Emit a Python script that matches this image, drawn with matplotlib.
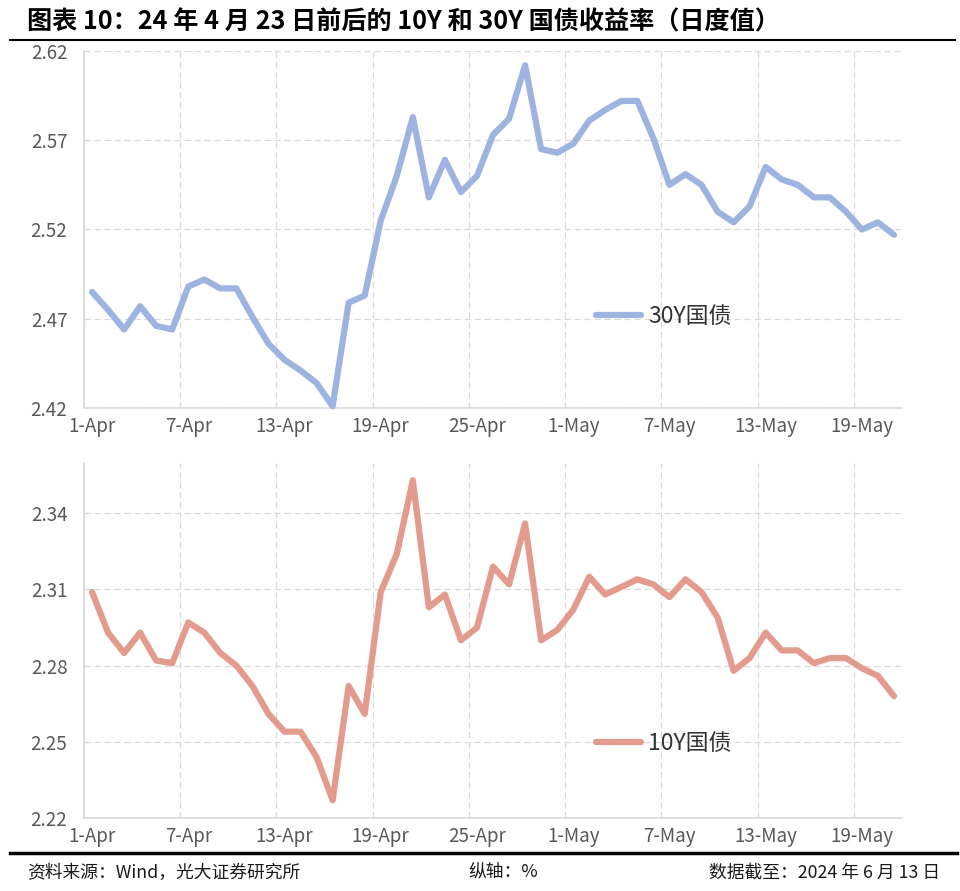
import matplotlib
matplotlib.use('Agg')
import matplotlib.pyplot as plt
from matplotlib.lines import Line2D
import numpy as np
import pandas as pd

plt.rcParams['font.family'] = ['Noto Sans CJK SC', 'DejaVu Sans']

# daily values, 1-Apr .. 21-May 2024
dates = pd.date_range('2024-04-01', '2024-05-21', freq='D')

y30 = [2.485, 2.475, 2.464, 2.477, 2.466, 2.464, 2.488, 2.492, 2.487, 2.487,
       2.471, 2.456, 2.447, 2.441, 2.434, 2.421, 2.479, 2.483, 2.525, 2.550,
       2.583, 2.538, 2.559, 2.541, 2.550, 2.573, 2.582, 2.612, 2.565, 2.563,
       2.568, 2.581, 2.587, 2.592, 2.592, 2.571, 2.545, 2.551, 2.545, 2.530,
       2.524, 2.533, 2.555, 2.548, 2.545, 2.538, 2.538, 2.530, 2.520, 2.524,
       2.517]

y10 = [2.309, 2.293, 2.285, 2.293, 2.282, 2.281, 2.297, 2.293, 2.285, 2.280,
       2.272, 2.261, 2.254, 2.254, 2.244, 2.227, 2.272, 2.261, 2.309, 2.324,
       2.353, 2.303, 2.308, 2.290, 2.295, 2.319, 2.312, 2.336, 2.290, 2.294,
       2.302, 2.315, 2.308, 2.311, 2.314, 2.312, 2.307, 2.314, 2.309, 2.299,
       2.278, 2.283, 2.293, 2.286, 2.286, 2.281, 2.283, 2.283, 2.279, 2.276,
       2.268]

series_names = ['30Y国债', '10Y国债']
colors = ['#9DB4E0', '#E39B8D']

title = '图表 10：24 年 4 月 23 日前后的 10Y 和 30Y 国债收益率（日度值）'
source = '资料来源：Wind，光大证券研究所'
unit = '纵轴：%'
cutoff = '数据截至：2024 年 6 月 13 日'

GRID = '#D9D9D9'
TXT = '#595959'


def style_axis(ax, yticks, ylim):
    n = len(dates)
    ax.set_xlim(-0.5, n - 0.5)
    ax.set_ylim(*ylim)
    ax.set_yticks(yticks)
    ax.set_yticklabels([f'{v:.2f}' for v in yticks])
    pos = list(range(0, n, 6))
    ax.set_xticks(pos)
    ax.set_xticklabels([f'{dates[i].day}-{dates[i].strftime("%b")}' for i in pos])
    ax.set_xticks(np.arange(-0.5, n, 6), minor=True)
    ax.grid(which='minor', axis='x', color=GRID, linestyle=(0, (5, 3)), lw=0.9)
    ax.grid(which='major', axis='y', color=GRID, linestyle=(0, (5, 3)), lw=0.9)
    ax.tick_params(which='both', length=0)
    ax.tick_params(axis='x', pad=6, labelsize=13.5, labelcolor=TXT)
    ax.tick_params(axis='y', pad=12, labelsize=13.5, labelcolor=TXT)
    for s in ['top', 'right']:
        ax.spines[s].set_visible(False)
    for s in ['left', 'bottom']:
        ax.spines[s].set_color(GRID)
        ax.spines[s].set_linewidth(1.2)
    ax.set_axisbelow(True)


fig = plt.figure(figsize=(9.6, 8.91), dpi=100)
ax1 = fig.add_axes([0.0875, 0.5421, 0.8521, 0.4007])
ax2 = fig.add_axes([0.0875, 0.0819, 0.8521, 0.3990])

x = np.arange(len(dates))
for ax, vals, name, c, yt, yl, ly in [
        (ax1, y30, series_names[0], colors[0], np.arange(2.42, 2.621, 0.05), (2.42, 2.62), 0.255),
        (ax2, y10, series_names[1], colors[1], np.arange(2.22, 2.341, 0.03), (2.22, 2.36), 0.209)]:
    style_axis(ax, yt, yl)
    ax.plot(x, vals, color=c, lw=4.5, solid_joinstyle='round',
            solid_capstyle='round', clip_on=False, zorder=3)
    h = Line2D([], [], color=c, lw=4.5, solid_capstyle='round')
    ax.legend([h], [name], frameon=False, loc='center left',
              bbox_to_anchor=(0.6125, ly), borderpad=0, handlelength=1.95,
              handletextpad=0.3, fontsize=16.5, labelcolor='#333333')

fig.text(27 / 960, 1 - 22 / 891, title, fontsize=18.1, fontweight='bold',
         va='center', ha='left', color='black')
fig.add_artist(Line2D([10 / 960, 955 / 960], [1 - 40 / 891] * 2,
                      color='black', lw=1.5, transform=fig.transFigure))
fig.add_artist(Line2D([10 / 960, 957 / 960], [1 - 853 / 891] * 2,
                      color='black', lw=2.5, transform=fig.transFigure))

fy = 1 - 873 / 891
fig.text(27 / 960, fy, source, fontsize=12.8, va='center', ha='left', color='#1a1a1a')
fig.text(503 / 960, fy, unit, fontsize=12.8, va='center', ha='center', color='#1a1a1a')
fig.text(940 / 960, fy, cutoff, fontsize=12.8, va='center', ha='right', color='#1a1a1a')

fig.savefig('out.png', dpi=100)
